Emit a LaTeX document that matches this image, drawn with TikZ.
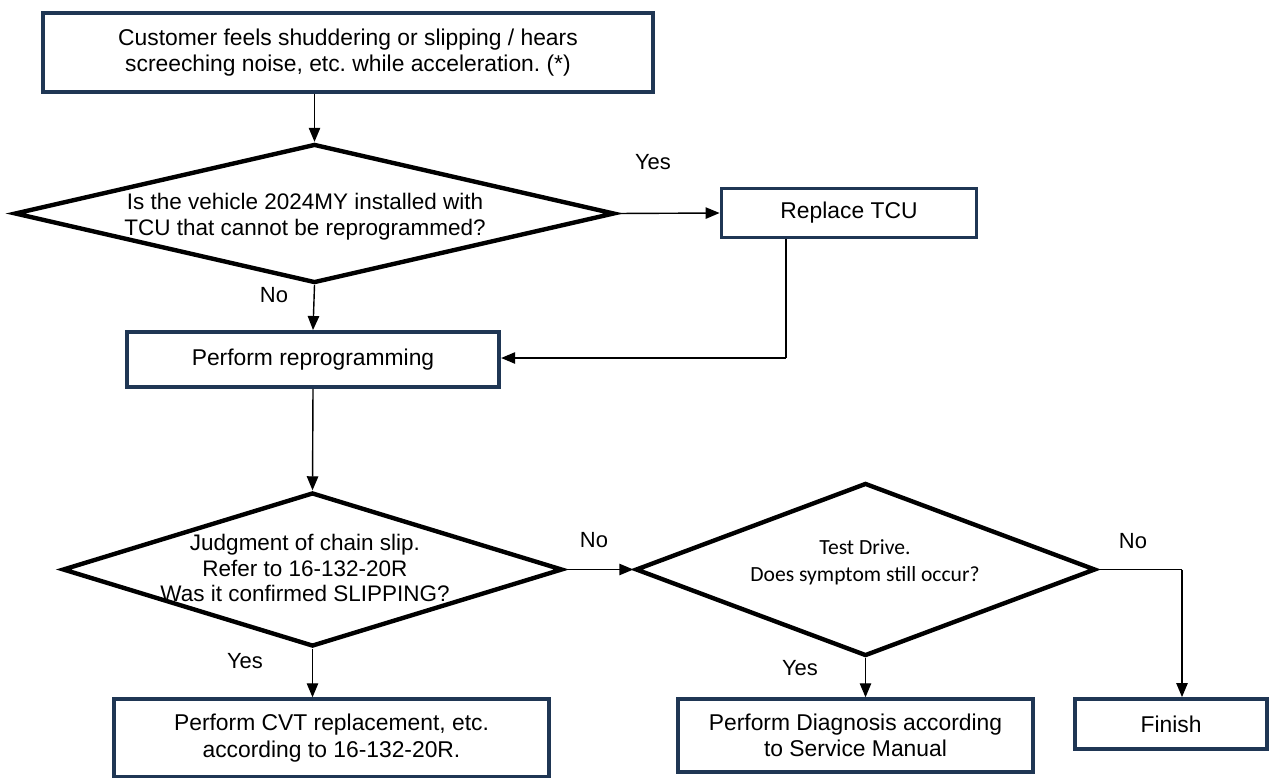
\documentclass[tikz,border=0pt]{standalone}
\usepackage{fontspec}
\setmainfont{Liberation Sans}
\newfontfamily\calib{Carlito}
\usetikzlibrary{shapes.geometric,arrows.meta,calc}
\definecolor{boxc}{RGB}{31,54,84}
\frenchspacing
\tikzset{
  stepbox/.style={draw=boxc, line width=2.2pt, fill=white, inner sep=0pt, align=center, font=\fontsize{13}{15}\selectfont},
  decis/.style={draw=black, line width=2.5pt, shape=diamond, inner sep=0pt},
  dtext/.style={align=center, font=\fontsize{12.8}{14.6}\selectfont, inner sep=0pt},
  lbl/.style={font=\fontsize{12.5}{14}\selectfont, inner sep=0pt},
  conn/.style={line width=0.8pt, draw=black},
  arr/.style={conn, -{Triangle[length=8pt,width=6.5pt]}}
}
\begin{document}
\begin{tikzpicture}[x=0.02cm,y=-0.02cm]
\useasboundingbox (0,0) rectangle (1270,777);
% boxes
\node[stepbox, minimum width=12.2cm, minimum height=1.58cm] (b1) at (348,52.5)
  {Customer feels shuddering or slipping / hears\\screeching noise, etc. while acceleration. (*)};
\node[stepbox, minimum width=5.1cm, minimum height=0.98cm] (rtcu) at (849,213) {Replace TCU};
\node[stepbox, minimum width=7.45cm, minimum height=1.1cm] (rep) at (313,359.5) {Perform reprogramming};
\node[stepbox, minimum width=8.7cm, minimum height=1.55cm] (cvt) at (331.5,738)
  {Perform CVT replacement, etc.\\according to 16-132-20R.};
\node[stepbox, minimum width=7.1cm, minimum height=1.45cm] (diag) at (855.5,735.5)
  {Perform Diagnosis according\\to Service Manual};
\node[stepbox, minimum width=3.85cm, minimum height=1.0cm] (fin) at (1171,724) {Finish};
% decisions
\node[decis, minimum width=12.0cm, minimum height=2.78cm] (d1) at (314.5,213.5) {};
\node[dtext] (d1t) at (305,217) {Is the vehicle 2024MY installed with\\TCU that cannot be reprogrammed?};
\node[decis, minimum width=10.0cm, minimum height=3.08cm] (d2) at (312.5,569.5) {};
\node[dtext] (d2t) at (305,568) {Judgment of chain slip.\\Refer to 16-132-20R\\Was it confirmed SLIPPING?};
\node[decis, minimum width=9.2cm, minimum height=3.46cm] (d3) at (865.5,569.5) {};
\node[dtext, font=\calib\fontsize{12.3}{15.5}\selectfont] (d3t) at (865,562) {Test Drive.\\Does symptom still occur?};
% labels
\node[lbl] (y1) at (653,162) {Yes};
\node[lbl] (n1) at (274,295) {No};
\node[lbl] (n2) at (594,540) {No};
\node[lbl] (y2) at (245,661) {Yes};
\node[lbl] (y3) at (800,668) {Yes};
\node[lbl] (n3) at (1133,541) {No};
% connectors
\coordinate (c1) at (786,358);
\coordinate (c2) at (1182,569.5);
\draw[arr] (d1.north |- b1.south) -- (d1.north);
\draw[arr] (d1.east) -- (rtcu.west);
\draw[conn] (rtcu.south -| c1) -- (c1);
\draw[arr] (c1) -- (c1 -| rep.east);
\draw[arr] (d1.south) -- (rep.north);
\draw[arr] (rep.south) -- (d2.north);
\draw[arr] (d2.east) -- (d3.west);
\draw[conn] (d3.east) -- (c2);
\draw[arr] (c2) -- (c2 |- fin.north);
\draw[arr] (d3.south) -- (d3.south |- diag.north);
\draw[arr] (d2.south) -- (d2.south |- cvt.north);
\end{tikzpicture}
\end{document}
